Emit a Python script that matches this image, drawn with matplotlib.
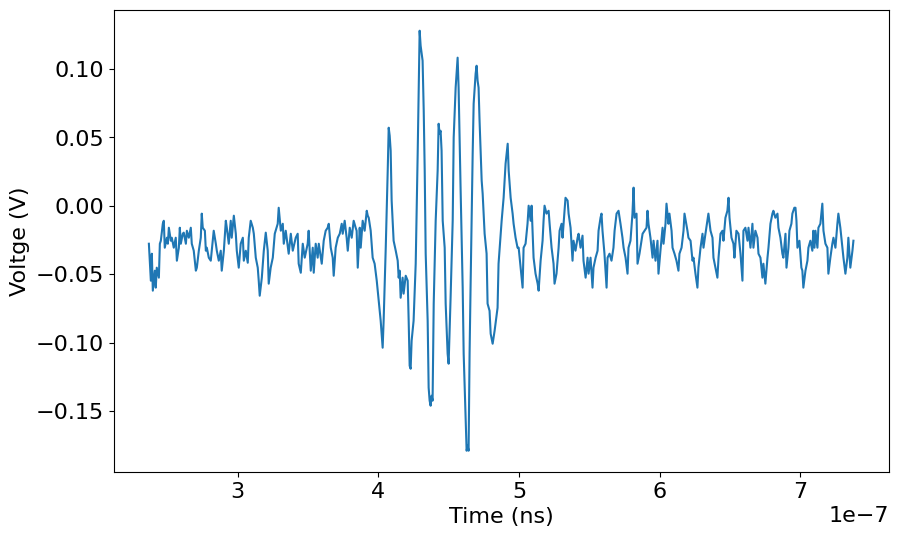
import matplotlib
matplotlib.use("Agg")
import matplotlib.pyplot as plt
import numpy as np

# waveform: time in ns, voltage in mV
t_ns = [
    236.8, 238.2, 238.9, 239.6, 241.0, 241.7, 242.4, 243.9, 244.6, 245.3,
    246.7, 247.4, 248.1, 249.6, 250.3, 251.0, 252.4, 253.1, 254.5, 255.9,
    256.7, 258.1, 258.8, 259.5, 260.9, 261.6, 263.1, 263.8, 265.2, 266.6,
    267.3, 268.7, 270.2, 270.9, 272.3, 273.7, 274.4, 275.1, 276.6, 277.3,
    278.0, 279.4, 280.8, 281.5, 282.9, 284.4, 285.1, 286.5, 287.9, 288.6,
    290.1, 291.5, 292.2, 293.6, 295.0, 295.7, 297.2, 298.6, 299.3, 300.7,
    302.1, 303.6, 304.3, 305.7, 307.1, 307.8, 309.2, 310.7, 311.4, 312.8,
    314.2, 314.9, 315.6, 317.1, 318.5, 319.9, 321.3, 322.0, 323.4, 324.9,
    326.3, 328.4, 329.1, 330.6, 332.0, 332.7, 334.1, 336.2, 337.7, 339.1,
    341.2, 342.6, 343.3, 344.8, 346.2, 347.6, 349.7, 350.4, 351.9, 353.3,
    354.0, 355.4, 356.8, 357.6, 359.7, 361.1, 362.5, 363.9, 364.7, 366.1,
    367.5, 368.2, 369.6, 371.1, 372.5, 373.9, 374.6, 376.0, 377.4, 378.2,
    379.6, 381.0, 382.4, 383.8, 384.5, 385.3, 386.0, 386.7, 387.4, 388.8,
    390.2, 391.7, 392.4, 393.1, 394.5, 395.2, 395.9, 397.3, 398.8, 399.5,
    400.2, 401.6, 403.0, 403.7, 405.2, 406.6, 407.3, 408.0, 408.7, 409.4,
    410.8, 412.3, 413.7, 414.4, 415.1, 415.8, 417.2, 417.9, 419.4, 420.8,
    421.5, 422.2, 422.9, 423.6, 425.0, 426.5, 427.9, 428.6, 429.3, 430.0,
    431.4, 432.2, 432.9, 433.6, 435.0, 435.7, 436.4, 437.1, 437.8, 438.5,
    439.3, 440.7, 442.1, 442.8, 443.5, 444.2, 444.9, 445.7, 447.1, 447.8,
    449.2, 449.9, 451.3, 452.8, 453.5, 454.9, 456.3, 457.0, 458.4, 459.9,
    460.6, 462.0, 462.7, 463.4, 464.1, 464.8, 465.5, 467.0, 467.7, 469.1,
    469.8, 470.5, 471.2, 471.9, 473.4, 474.1, 475.5, 476.9, 477.6, 479.0,
    479.8, 481.2, 482.6, 484.7, 485.4, 487.6, 489.0, 490.4, 491.9, 492.6,
    494.0, 495.4, 496.1, 497.5, 498.9, 499.7, 501.1, 502.5, 503.2, 504.6,
    506.0, 506.8, 508.2, 508.9, 509.6, 510.3, 511.7, 513.2, 513.9, 515.3,
    516.7, 517.4, 518.1, 519.5, 521.0, 521.7, 523.1, 524.5, 525.2, 526.6,
    528.1, 528.8, 530.2, 530.9, 532.3, 533.0, 534.5, 535.2, 536.6, 538.0,
    538.7, 540.1, 541.6, 542.3, 543.7, 545.1, 545.8, 547.3, 548.7, 549.4,
    550.8, 552.2, 552.9, 554.4, 555.8, 556.5, 557.9, 558.6, 559.3, 560.7,
    562.2, 562.9, 564.3, 565.7, 567.1, 567.9, 569.3, 570.7, 572.1, 573.5,
    574.3, 575.7, 577.1, 577.8, 579.2, 580.6, 581.4, 582.1, 583.5, 584.2,
    585.6, 587.0, 587.8, 589.2, 590.6, 591.3, 592.0, 593.4, 594.9, 595.6,
    597.0, 598.4, 599.1, 600.5, 602.0, 602.7, 604.1, 604.8, 606.2, 606.9,
    608.4, 609.1, 610.5, 611.9, 613.3, 614.0, 615.5, 616.9, 617.6, 619.7,
    620.4, 621.9, 623.3, 624.0, 625.4, 626.8, 627.5, 629.0, 630.4, 631.1,
    632.5, 633.9, 634.6, 636.1, 637.5, 638.2, 639.6, 641.0, 641.8, 643.2,
    644.6, 645.3, 646.7, 648.1, 648.9, 649.6, 651.0, 652.4, 653.1, 654.5,
    656.0, 656.7, 657.4, 658.8, 659.5, 660.9, 662.4, 663.1, 664.5, 665.9,
    666.6, 668.0, 669.5, 670.2, 671.6, 673.0, 673.7, 675.1, 676.6, 677.3,
    678.7, 680.1, 680.8, 682.2, 683.7, 684.4, 685.8, 687.2, 687.9, 689.4,
    690.1, 691.5, 692.2, 693.6, 694.3, 695.7, 696.5, 697.2, 697.9, 699.3,
    700.7, 701.4, 702.1, 703.6, 705.0, 705.7, 707.1, 708.5, 709.2, 710.0,
    710.7, 712.1, 712.8, 714.2, 715.6, 716.4, 717.8, 719.2, 719.9, 721.3,
    722.7, 723.5, 724.9, 726.3, 727.0, 728.4, 729.9, 730.6, 732.0, 733.4,
    734.1, 735.5, 737.0, 737.7,
]
v_mV = [
    -27.8, -54.8, -35.1, -62.1, -47.5, -59.9, -45.3, -52.6, -27.8, -25.6,
    -13.2, -11.0, -30.7, -23.4, -27.8, -16.1, -25.6, -23.4, -30.7, -23.4,
    -40.2, -30.7, -16.1, -27.8, -20.5, -19.7, -27.8, -18.3, -23.4, -16.1,
    -27.8, -32.9, -47.5, -45.3, -32.9, -23.4, -5.8, -16.1, -18.3, -32.9,
    -30.7, -38.0, -40.2, -32.9, -18.3, -27.8, -32.9, -40.2, -32.9, -47.5,
    -32.9, -11.0, -16.1, -27.8, -11.0, -23.4, -7.3, -20.5, -32.9, -45.3,
    -27.8, -23.4, -40.2, -32.9, -41.7, -23.4, -11.0, -16.1, -20.5, -38.0,
    -45.3, -54.8, -65.8, -52.6, -32.9, -19.7, -32.9, -57.0, -45.3, -38.0,
    -20.5, -13.2, -1.5, -18.3, -13.2, -27.8, -18.3, -35.1, -20.5, -32.9,
    -23.4, -20.5, -42.4, -49.0, -27.8, -38.0, -27.8, -18.3, -47.5, -30.7,
    -49.0, -27.8, -38.0, -27.8, -42.4, -25.6, -18.3, -16.1, -13.2, -30.7,
    -38.0, -51.2, -30.7, -23.4, -20.5, -13.2, -20.5, -11.0, -23.4, -32.9,
    -16.1, -23.4, -11.0, -16.1, -18.3, -45.3, -30.7, -16.1, -30.7, -11.0,
    -18.3, -3.7, -7.3, -8.8, -18.3, -27.8, -38.0, -42.4, -54.8, -62.1,
    -69.4, -84.1, -103.8, -84.1, -30.7, 25.6, 57.0, 51.2, 40.2, 3.7,
    -25.6, -32.9, -40.2, -52.6, -47.5, -67.3, -52.6, -64.3, -51.2, -54.8,
    -84.1, -117.0, -119.2, -98.7, -84.1, -42.4, 38.0, 84.1, 127.9, 117.0,
    106.0, 69.4, 25.6, -35.1, -84.1, -133.0, -142.5, -146.2, -138.9, -142.5,
    -71.6, -11.0, 25.6, 59.9, 52.6, 54.8, 40.2, -11.0, -30.7, -71.6,
    -108.2, -115.5, -67.3, -11.0, 49.7, 86.3, 108.2, 86.3, 13.2, -59.9,
    -108.2, -157.2, -179.1, -175.4, -179.1, -108.2, -59.9, 38.0, 74.6, 96.5,
    102.3, 91.4, 86.3, 62.1, 18.3, 8.8, -20.5, -35.1, -71.6, -76.8,
    -93.6, -100.9, -91.4, -74.6, -42.4, -11.0, 5.8, 30.7, 45.3, 25.6,
    5.8, -5.8, -13.2, -23.4, -30.7, -30.7, -45.3, -59.9, -30.7, -27.8,
    -13.2, 0.0, -11.0, 0.0, -18.3, -38.0, -49.7, -57.0, -62.1, -40.2,
    -25.6, -11.0, 0.0, -5.8, -3.7, -13.2, -30.7, -42.4, -57.0, -49.7,
    -30.7, -18.3, -13.2, -23.4, -3.7, 5.8, 3.7, -5.8, -16.1, -40.2,
    -25.6, -32.9, -23.4, -20.5, -30.7, -21.9, -40.2, -52.6, -38.0, -49.7,
    -38.0, -59.9, -45.3, -38.0, -32.9, -18.3, -8.8, -5.8, -18.3, -35.1,
    -59.9, -38.0, -35.1, -40.2, -30.7, -18.3, -5.8, -3.7, -13.2, -23.4,
    -30.7, -38.0, -49.7, -30.7, -25.6, -5.8, 13.2, -8.8, -5.8, -42.4,
    -35.1, -25.6, -20.5, -18.3, -16.1, -3.7, -13.2, -23.4, -38.0, -25.6,
    -40.2, -25.6, -49.7, -32.9, -16.1, -27.8, -13.2, 1.5, -13.2, -5.8,
    -18.3, -30.7, -35.1, -40.2, -47.5, -35.1, -30.7, -18.3, -5.8, -18.3,
    -23.4, -25.6, -40.2, -38.0, -49.7, -59.9, -45.3, -30.7, -20.5, -30.7,
    -20.5, -11.0, -5.8, -18.3, -23.4, -38.0, -45.3, -52.6, -38.0, -20.5,
    -18.3, -25.6, -8.8, -3.7, 5.8, -8.8, -23.4, -27.8, -38.0, -18.3,
    -20.5, -27.8, -35.1, -54.8, -18.3, -16.1, -25.6, -16.1, -30.7, -13.2,
    -30.7, -18.3, -23.4, -35.1, -38.0, -52.6, -42.4, -57.0, -38.0, -30.7,
    -13.2, -5.8, -3.7, -8.8, -5.8, -16.1, -23.4, -35.1, -38.0, -20.5,
    -45.3, -30.7, -18.3, -13.2, -5.8, -1.5, -1.5, -11.0, -30.7, -25.6,
    -45.3, -47.5, -59.9, -47.5, -40.2, -30.7, -25.6, -32.9, -18.3, -30.7,
    -18.3, -30.7, -16.1, -13.2, 1.5, -18.3, -27.8, -30.7, -49.7, -38.0,
    -27.8, -23.4, -30.7, -13.2, -5.8, -16.1, -30.7, -38.0, -49.7, -38.0,
    -23.4, -45.3, -32.9, -25.6,
]

t = np.array(t_ns) * 1e-9
v = np.array(v_mV) / 1000

plt.rcParams['font.size'] = 16
fig, ax = plt.subplots(figsize=(10, 6))
ax.plot(t, v)
ax.set_xlabel('Time (ns)')
ax.set_ylabel('Voltge (V)')
fig.savefig('out.png', dpi=100, bbox_inches='tight')
